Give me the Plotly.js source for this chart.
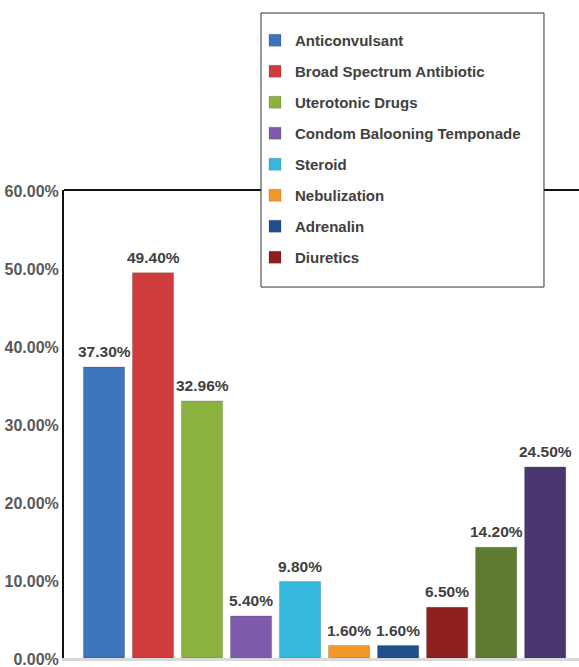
<!DOCTYPE html>
<html>
<head>
<meta charset="utf-8">
<script src="https://cdn.plot.ly/plotly-3.0.1.min.js"></script>
<style>html,body{margin:0;padding:0;background:#fff;}#chart{width:579px;height:667px;}</style>
</head>
<body>
<div id="chart"></div>
<script>
// Data
const categories = [
  "Anticonvulsant",
  "Broad Spectrum Antibiotic",
  "Uterotonic Drugs",
  "Condom Balooning Temponade",
  "Steroid",
  "Nebulization",
  "Adrenalin",
  "Diuretics",
  "Category 9",
  "Category 10"
];
const values = [37.30, 49.40, 32.96, 5.40, 9.80, 1.60, 1.60, 6.50, 14.20, 24.50];
const valueLabels = ["37.30%", "49.40%", "32.96%", "5.40%", "9.80%", "1.60%", "1.60%", "6.50%", "14.20%", "24.50%"];
const inLegend = [true, true, true, true, true, true, true, true, false, false];
const colors = ["#3D74BC", "#CF3C3B", "#8BB13E", "#7E5BAA", "#35B8DE", "#F2982A", "#1F4F8D", "#8F1E1E", "#5D7C31", "#4B3670"];

const font = "Liberation Sans, Arial, sans-serif";
const traces = categories.map((c, i) => ({
  type: "bar",
  name: c,
  x: [c],
  y: [values[i]],
  marker: {color: colors[i], line: {color: "rgba(0,0,0,0.15)", width: 1}},
  width: 0.84,
  showlegend: inLegend[i],
  legendgroup: "g" + i,
  hoverinfo: "x+y"
}));

const labelAnnotations = categories.map((c, i) => ({
  x: c, y: values[i], xref: "x", yref: "y",
  text: valueLabels[i],
  showarrow: false,
  yanchor: "bottom",
  yshift: 5,
  font: {family: font, size: 15.5, color: "#404040", weight: "bold"}
}));

const layout = {
  width: 579, height: 667,
  margin: {l: 64, r: 0, t: 190, b: 9},
  paper_bgcolor: "#fff", plot_bgcolor: "#fff",
  barmode: "overlay",
  showlegend: true,
  font: {family: font},
  xaxis: {
    type: "category",
    range: [-0.816, 9.69],
    showticklabels: false,
    ticks: "",
    showgrid: false,
    zeroline: false,
    showline: true, linecolor: "#D9D9D9", linewidth: 3
  },
  yaxis: {
    range: [0, 60],
    dtick: 10,
    tickformat: ".2f",
    ticksuffix: "%",
    showgrid: false,
    zeroline: false,
    showline: true, linecolor: "#111", linewidth: 2,
    ticks: "",
    ticklabelstandoff: 0,
    ticklabelshift: 1,
    ticklabeloverflow: "allow",
    tickfont: {family: font, size: 16, color: "#595959", weight: "bold"}
  },
  annotations: labelAnnotations,
  shapes: [{
    type: "line", xref: "paper", yref: "paper",
    x0: 0, x1: 1, y0: 1, y1: 1,
    line: {color: "#111", width: 2}, layer: "below"
  }, {
    type: "rect", xref: "paper", yref: "paper",
    x0: 0.3825, x1: 0.932, y0: 0.7927, y1: 1.3782,
    fillcolor: "#fff", line: {color: "#333", width: 1}, layer: "above"
  }],
  legend: {
    x: 0.3709, y: 1.3547, xanchor: "left", yanchor: "top",
    bgcolor: "rgba(0,0,0,0)", borderwidth: 0,
    font: {family: font, size: 15, color: "#404040", weight: "bold"},
    tracegroupgap: 8.5,
    itemclick: false
  }
};

Plotly.newPlot("chart", traces, layout, {displayModeBar: false, staticPlot: true});
</script>
</body>
</html>
